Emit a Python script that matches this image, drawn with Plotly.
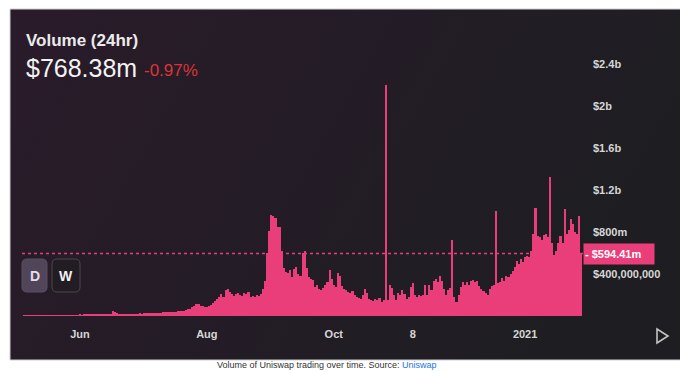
import base64
import pandas as pd
import plotly.graph_objects as go

# ---------------- data ----------------
start_date = "2020-05-05"
volume_musd = [
    1, 1, 2, 2, 2, 3, 2, 3, 3, 4,
    3, 4, 4, 5, 4, 5, 6, 5, 6, 7,
    6, 7, 8, 7, 8, 9, 8, 10, 9, 10,
    11, 10, 12, 11, 12, 13, 12, 14, 13, 15,
    14, 16, 15,
    48, 35, 25,
    22, 20, 21, 19, 20, 22, 21, 20, 23, 22,
    24, 23, 25, 27, 26, 28, 30, 27, 31, 33,
    32, 35, 34, 38, 36, 40, 42, 38, 45, 48, 44, 50,
    55, 62, 70, 85, 100, 118, 112, 100, 95, 90, 86, 92, 105,
    125, 145, 165, 185, 205, 185, 250, 255, 230,
    205, 195, 210, 220, 200, 190, 222, 205, 225, 185, 190, 180, 200, 190, 212, 255, 330,
    600, 810, 960, 955, 930, 850, 845, 620, 455, 420, 410, 440,
    370, 445, 470, 400, 380, 600, 615, 460, 370, 350, 340, 280,
    300, 260, 250, 270, 300, 320, 440, 350, 300, 280, 410, 380, 290, 260, 250, 230,
    220, 240, 200, 180, 170, 160, 200, 260, 220, 160, 150, 140, 160, 150, 170, 130, 150,
    2200,
    150, 300, 270, 200, 150, 220, 200, 250, 210, 160, 180, 280,
    310, 200, 180, 200, 190, 200, 300, 200, 300, 250, 330, 350, 320, 380, 330, 260, 200, 250, 270,
    720,
    180, 130, 200, 280, 320, 300, 320, 300, 330, 340, 320, 330, 290, 260, 240, 220, 200, 260, 290, 300,
    1000,
    310, 320, 360, 330, 380, 370, 400, 430, 470, 520, 500, 540, 510, 560, 570, 560, 620,
    780, 1030, 760, 750, 720, 770, 780, 750, 1320, 700, 580, 620, 700, 760, 700, 1020, 780, 820, 920, 880, 800, 780, 950, 594.41,
]
dates = pd.date_range(start_date, periods=len(volume_musd), freq="D")
volume_usd = [v * 1e6 for v in volume_musd]

last_price_value = 594.41e6
last_price_label = "- $594.41m"

x_tick_dates = ["2020-06-01", "2020-08-01", "2020-10-01", "2020-11-08", "2021-01-01"]
x_tick_text = ["Jun", "Aug", "Oct", "8", "2021"]
y_tick_vals = [4e8, 8e8, 1.2e9, 1.6e9, 2e9, 2.4e9]
y_tick_text = ["$400,000,000", "$800m", "$1.2b", "$1.6b", "$2b", "$2.4b"]

title_text = "Volume (24hr)"
headline_value = "$768.38m"
headline_change = "-0.97%"
caption = "Volume of Uniswap trading over time. Source: <span style='color:#1a73e8'>Uniswap</span>"

# ---------------- layout geometry ----------------
# page body has an 8px margin, so the figure is drawn 8px in from the window corner
OFF = 8
WIN_W, WIN_H = 688, 371
W, H = WIN_W - OFF, WIN_H - OFF
PLOT_L, PLOT_R, PLOT_T, PLOT_B = 22, 585, 43, 316   # window pixels
ML, MR, MT, MB = PLOT_L - OFF, WIN_W - PLOT_R, PLOT_T - OFF, WIN_H - PLOT_B
PW, PH = PLOT_R - PLOT_L, PLOT_B - PLOT_T
PINK = "#ea3e7a"


def px(x, y):
    """window pixel -> paper coordinate"""
    return (x - PLOT_L) / PW, (PLOT_B - y) / PH


def rrect(x0, y0, x1, y1, r):
    pts = []
    a = px(x0 + r, y0); pts.append(f"M{a[0]},{a[1]}")
    a = px(x1 - r, y0); pts.append(f"L{a[0]},{a[1]}")
    c = px(x1, y0); e = px(x1, y0 + r); pts.append(f"Q{c[0]},{c[1]} {e[0]},{e[1]}")
    a = px(x1, y1 - r); pts.append(f"L{a[0]},{a[1]}")
    c = px(x1, y1); e = px(x1 - r, y1); pts.append(f"Q{c[0]},{c[1]} {e[0]},{e[1]}")
    a = px(x0 + r, y1); pts.append(f"L{a[0]},{a[1]}")
    c = px(x0, y1); e = px(x0, y1 - r); pts.append(f"Q{c[0]},{c[1]} {e[0]},{e[1]}")
    a = px(x0, y0 + r); pts.append(f"L{a[0]},{a[1]}")
    c = px(x0, y0); e = px(x0 + r, y0); pts.append(f"Q{c[0]},{c[1]} {e[0]},{e[1]}")
    return " ".join(pts) + " Z"


fig = go.Figure(
    go.Bar(
        x=dates,
        y=volume_usd,
        marker=dict(color=PINK, line=dict(width=0)),
        hoverinfo="skip",
    )
)

svg = (
    "<svg xmlns='http://www.w3.org/2000/svg' width='100' height='100' viewBox='0 0 100 100' "
    "preserveAspectRatio='none'><defs><linearGradient id='g' x1='0' y1='0' x2='1' y2='0.3'>"
    "<stop offset='0' stop-color='#2a1b2a'/><stop offset='0.55' stop-color='#231c26'/>"
    "<stop offset='1' stop-color='#1e1e22'/></linearGradient></defs>"
    "<rect width='100' height='100' fill='url(#g)'/></svg>"
)
svg_uri = "data:image/svg+xml;base64," + base64.b64encode(svg.encode()).decode()

px0, py0 = px(10, 9)
px1, py1 = px(681, 360)

shapes = [
    dict(type="rect", xref="paper", yref="paper", x0=px0, y0=py1, x1=px1, y1=py0,
         line=dict(color="#cfcfcf", width=1), fillcolor="rgba(0,0,0,0)", layer="below"),
    dict(type="line", xref="paper", yref="y", x0=0, x1=1, y0=last_price_value, y1=last_price_value,
         line=dict(color="#e0407c", width=1.5, dash="dot"), layer="below"),
    dict(type="path", xref="paper", yref="paper", path=rrect(22, 259, 47, 292, 5),
         fillcolor="#514659", line=dict(color="#5a4f63", width=1)),
    dict(type="path", xref="paper", yref="paper", path=rrect(52, 259, 80, 292, 5),
         fillcolor="#221c23", line=dict(color="#4a4650", width=1)),
]
t1, t2, t3 = px(657, 329), px(657, 343), px(668, 336)
shapes.append(dict(type="path", xref="paper", yref="paper",
                   path=f"M{t1[0]},{t1[1]} L{t2[0]},{t2[1]} L{t3[0]},{t3[1]} Z",
                   line=dict(color="#c4c4c4", width=1.6), fillcolor="rgba(0,0,0,0)"))

FONT = "Liberation Sans, Arial"
ann = []
x, y = px(24, 40)
ann.append(dict(xref="paper", yref="paper", x=x, y=y, xanchor="left", yanchor="middle",
                text=f"<b>{title_text}</b>", showarrow=False,
                font=dict(family=FONT, size=17, color="#ebebeb")))
x, y = px(24, 68)
ann.append(dict(xref="paper", yref="paper", x=x, y=y, xanchor="left", yanchor="middle",
                text=headline_value, showarrow=False,
                font=dict(family=FONT, size=25, color="#f2f2f2")))
x, y = px(142, 70)
ann.append(dict(xref="paper", yref="paper", x=x, y=y, xanchor="left", yanchor="middle",
                text=headline_change, showarrow=False,
                font=dict(family=FONT, size=17, color="#dc3535")))
ann.append(dict(xref="paper", yref="y", x=1, y=last_price_value, xanchor="left", yanchor="middle",
                xshift=-2, text=f"<b>{last_price_label}</b>", showarrow=False,
                bgcolor=PINK, width=68, height=18, align="left", borderpad=1,
                font=dict(family=FONT, size=11, color="#ffffff")))
x, y = px(34.5, 275.5)
ann.append(dict(xref="paper", yref="paper", x=x, y=y, xanchor="center", yanchor="middle",
                text="<b>D</b>", showarrow=False,
                font=dict(family=FONT, size=14, color="#e4dfe9")))
x, y = px(66, 275.5)
ann.append(dict(xref="paper", yref="paper", x=x, y=y, xanchor="center", yanchor="middle",
                text="<b>W</b>", showarrow=False,
                font=dict(family=FONT, size=14, color="#f2f2f2")))
x, y = px(327, 371)
ann.append(dict(xref="paper", yref="paper", x=x, y=y, xanchor="center", yanchor="bottom",
                text=caption, showarrow=False, borderpad=0,
                font=dict(family=FONT, size=9, color="#333333")))

fig.update_layout(
    width=W, height=H,
    margin=dict(l=ML, r=MR, t=MT, b=MB, pad=0),
    paper_bgcolor="#ffffff",
    plot_bgcolor="rgba(0,0,0,0)",
    bargap=0,
    showlegend=False,
    images=[dict(source=svg_uri, xref="paper", yref="paper", x=px0, y=py0,
                 sizex=px1 - px0, sizey=py0 - py1, sizing="stretch",
                 xanchor="left", yanchor="top", layer="below")],
    shapes=shapes,
    annotations=ann,
    xaxis=dict(
        type="date",
        range=["2020-05-04 03:00", "2021-01-29 19:00"],
        tickvals=x_tick_dates, ticktext=x_tick_text,
        showgrid=False, zeroline=False, showline=False, ticks="",
        ticklabelstandoff=10,
        tickfont=dict(family=FONT, size=11, color="#d6d6d6", weight="bold"),
        fixedrange=True,
    ),
    yaxis=dict(
        side="right",
        range=[0, 2.6e9],
        tickvals=y_tick_vals, ticktext=y_tick_text,
        showgrid=False, zeroline=False, showline=False, ticks="",
        ticklabelstandoff=7,
        tickfont=dict(family=FONT, size=11, color="#d6d6d6", weight="bold"),
        fixedrange=True,
    ),
)

fig.write_html("out.html", config={"displayModeBar": False})
